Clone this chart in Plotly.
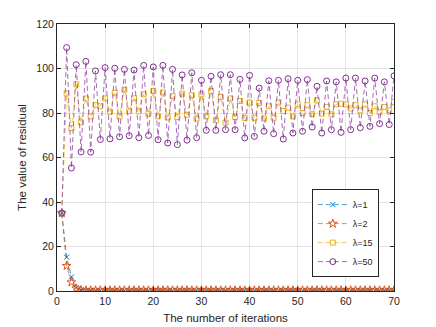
import plotly.graph_objects as go

COLORS = ["#0072BD", "#D95319", "#EDB120", "#7E2F8E"]
WIDTH = 436
HEIGHT = 327

iterations = list(range(1, 71))

# lambda = 1 and 2 drop to almost zero after a few iterations
res_l1 = [35.0, 15.2, 6.3, 1.6, 0.5,
          0.3, 0.3, 0.3, 0.3, 0.3, 0.3, 0.3, 0.3, 0.3, 0.3,
          0.3, 0.3, 0.3, 0.3, 0.3, 0.3, 0.3, 0.3, 0.3, 0.3,
          0.3, 0.3, 0.3, 0.3, 0.3, 0.3, 0.3, 0.3, 0.3, 0.3,
          0.3, 0.3, 0.3, 0.3, 0.3, 0.3, 0.3, 0.3, 0.3, 0.3,
          0.3, 0.3, 0.3, 0.3, 0.3, 0.3, 0.3, 0.3, 0.3, 0.3,
          0.3, 0.3, 0.3, 0.3, 0.3, 0.3, 0.3, 0.3, 0.3, 0.3,
          0.3, 0.3, 0.3, 0.3, 0.3]
res_l2 = [35.0, 11.3, 3.9, 1.2, 0.4,
          0.3, 0.3, 0.3, 0.3, 0.3, 0.3, 0.3, 0.3, 0.3, 0.3,
          0.3, 0.3, 0.3, 0.3, 0.3, 0.3, 0.3, 0.3, 0.3, 0.3,
          0.3, 0.3, 0.3, 0.3, 0.3, 0.3, 0.3, 0.3, 0.3, 0.3,
          0.3, 0.3, 0.3, 0.3, 0.3, 0.3, 0.3, 0.3, 0.3, 0.3,
          0.3, 0.3, 0.3, 0.3, 0.3, 0.3, 0.3, 0.3, 0.3, 0.3,
          0.3, 0.3, 0.3, 0.3, 0.3, 0.3, 0.3, 0.3, 0.3, 0.3,
          0.3, 0.3, 0.3, 0.3, 0.3]
res_l15 = [35.0, 88.8, 73.2, 92.9, 75.8, 86.5, 78.5, 83.5, 83.0, 86.5,
           80.5, 89.1, 78.5, 90.5, 80.8, 86.6, 80.8, 88.4, 79.7, 89.9,
           78.5, 89.2, 78.0, 87.6, 78.2, 88.7, 79.2, 88.0, 77.5, 88.4,
           78.5, 89.9, 76.7, 87.2, 75.7, 86.5, 78.2, 85.4, 77.8, 84.7,
           77.9, 84.5, 77.5, 83.0, 77.9, 84.7, 80.9, 82.4, 78.5, 83.9,
           80.0, 83.5, 79.6, 85.7, 79.7, 82.7, 79.4, 83.9, 84.2, 83.9,
           82.0, 83.5, 81.2, 83.9, 80.0, 83.0, 80.5, 82.7, 81.2, 84.9]
res_l50 = [35.0, 109.4, 55.3, 101.7, 62.5, 103.2, 62.4, 98.9, 68.1, 100.4,
           68.4, 100.1, 69.3, 99.6, 69.8, 99.3, 68.9, 101.4, 69.9, 100.7,
           68.0, 101.4, 66.5, 99.6, 65.8, 97.1, 67.8, 98.1, 68.9, 94.7,
           72.2, 96.5, 72.2, 97.2, 72.5, 97.2, 72.5, 95.1, 68.8, 96.9,
           69.5, 91.2, 71.8, 94.5, 70.7, 94.7, 68.3, 95.4, 71.0, 94.7,
           71.8, 95.0, 73.7, 92.0, 71.0, 94.4, 72.5, 94.0, 71.3, 95.7,
           72.5, 95.7, 73.4, 94.4, 74.0, 95.7, 75.2, 94.0, 74.8, 96.7]

series = [
    ("\u03bb=1", res_l1, "x-thin-open", 5),
    ("\u03bb=2", res_l2, "star-open", 6.5),
    ("\u03bb=15", res_l15, "square-open", 5),
    ("\u03bb=50", res_l50, "circle-open", 6),
]

fig = go.Figure()
for i, (name, values, symbol, size) in enumerate(series):
    fig.add_trace(go.Scatter(
        x=iterations, y=values, name=name,
        mode="lines+markers",
        line=dict(color=COLORS[i], width=0.7, dash="5px,3px"),
        marker=dict(symbol=symbol, size=size, color=COLORS[i],
                    line=dict(color=COLORS[i], width=1)),
    ))

axis_style = dict(
    showgrid=True, gridcolor="#e3e3e3", gridwidth=1,
    showline=True, linecolor="#262626", linewidth=1, mirror="allticks",
    ticks="inside", ticklen=4, tickcolor="#262626",
    tickfont=dict(size=10.5, color="#262626"),
    zeroline=False, automargin=False,
)

fig.update_layout(
    width=WIDTH, height=HEIGHT,
    margin=dict(l=57, r=42, t=24, b=36),
    paper_bgcolor="white", plot_bgcolor="white",
    font=dict(family="Liberation Sans, Arial, sans-serif", color="#262626"),
    legend=dict(x=0.955, y=0.052, xanchor="right", yanchor="bottom",
                bgcolor="white", bordercolor="#262626", borderwidth=1,
                font=dict(size=9), tracegroupgap=0, itemwidth=30),
    showlegend=True,
)
fig.update_xaxes(range=[0, 70], dtick=10,
                 title=dict(text="The number of iterations", font=dict(size=11.5), standoff=8),
                 **axis_style)
fig.update_yaxes(range=[0, 120], dtick=20,
                 title=dict(text="The value of residual", font=dict(size=11.5), standoff=7),
                 **axis_style)

# drop the default body margin so the figure sits at the window origin
fig.write_html("out.html",
               config={"displayModeBar": False},
               post_script="document.body.style.margin='0px';"
                           "document.body.style.overflow='hidden';")
